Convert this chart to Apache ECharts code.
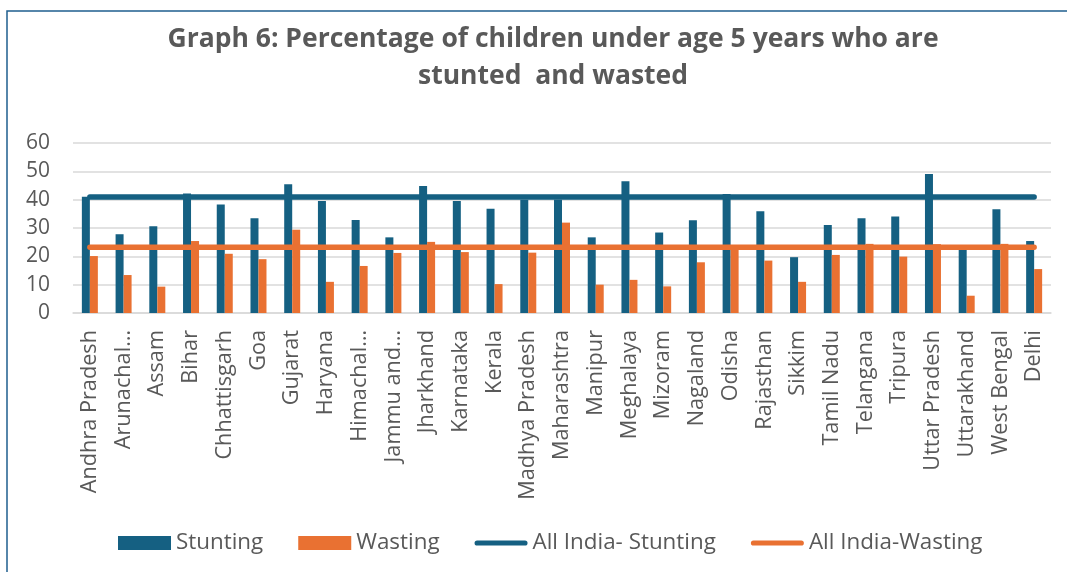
<!DOCTYPE html>
<html>
<head>
<meta charset="utf-8">
<script src="https://cdn.jsdelivr.net/npm/echarts@6/dist/echarts.min.js"></script>
<style>
html,body{margin:0;padding:0;background:#fff;}
#chart{width:1067px;height:572px;}
</style>
</head>
<body>
<div id="chart"></div>
<script>
const titleText = "Graph 6: Percentage of children under age 5 years who are\nstunted  and wasted";
const categories = ["Andhra Pradesh","Arunachal…","Assam","Bihar","Chhattisgarh","Goa","Gujarat","Haryana","Himachal…","Jammu and…","Jharkhand","Karnataka","Kerala","Madhya Pradesh","Maharashtra","Manipur","Meghalaya","Mizoram","Nagaland","Odisha","Rajasthan","Sikkim","Tamil Nadu","Telangana","Tripura","Uttar Pradesh","Uttarakhand","West Bengal","Delhi"];
const stunting = [41.0,27.8,30.6,42.2,38.3,33.4,45.4,39.5,32.8,26.7,44.8,39.5,36.8,40.0,40.0,26.7,46.5,28.4,32.7,42.0,35.9,19.7,31.1,33.4,34.1,49.1,22.3,36.6,25.4];
const wasting = [20.1,13.4,9.3,25.4,20.9,19.0,29.4,11.0,16.6,21.2,25.1,21.5,10.2,21.3,31.9,10.0,11.7,9.4,17.9,23.0,18.5,11.0,20.5,24.4,19.9,24.3,6.1,24.4,15.5];
const allIndiaStunting = 40.9;
const allIndiaWasting = 23.2;
const yTicks = {min:0, max:60, interval:10};

const blue = '#156082', orange = '#E97132', txt = '#595959';
const font = "'Open Sans', 'Liberation Sans', sans-serif";
const lineIcon = 'path://M2.75,0 L53.25,0 A2.75,2.75 0 0 1 53.25,5.5 L2.75,5.5 A2.75,2.75 0 0 1 2.75,0 Z';

const chart = echarts.init(document.getElementById('chart'), null, {renderer:'canvas'});
chart.setOption({
  animation:false,
  backgroundColor:'#fff',
  graphic:[{type:'rect', shape:{x:7, y:11, width:1200, height:700}, style:{fill:'none', stroke:'#1f5f8f', lineWidth:1.5}, z:-10, silent:true}],
  title:{
    text:titleText, left:548, top:16, textAlign:'center',
    textStyle:{fontFamily:"'Open Sans', 'Liberation Sans', sans-serif", fontWeight:'bold', fontSize:26.5, color:txt, lineHeight:37}
  },
  legend:{
    data:[
      {name:'Stunting', icon:'rect'},
      {name:'Wasting', icon:'rect'},
      {name:'All India- Stunting', icon:lineIcon},
      {name:'All India-Wasting', icon:lineIcon}
    ],
    left:113, top:527, itemWidth:53, itemHeight:14, itemGap:35,
    textStyle:{fontFamily:font, fontSize:22.4, color:txt}
  },
  grid:{left:73, right:16, top:143, bottom:259, containLabel:false},
  xAxis:{
    type:'category', data:categories, boundaryGap:true,
    axisLine:{lineStyle:{color:'#d9d9d9', width:1.5}},
    axisTick:{show:false},
    axisLabel:{rotate:90, interval:0, margin:17, fontFamily:font, fontSize:21.7, color:txt}
  },
  yAxis:{
    type:'value', min:yTicks.min, max:yTicks.max, interval:yTicks.interval,
    axisLine:{show:false}, axisTick:{show:false},
    splitLine:{lineStyle:{color:'#d9d9d9', width:1.5}},
    axisLabel:{margin:23, fontFamily:font, fontSize:21, color:txt}
  },
  series:[
    {name:'Stunting', type:'bar', data:stunting, barWidth:8, barGap:'0%', itemStyle:{color:blue}, z:2},
    {name:'Wasting', type:'bar', data:wasting, barWidth:8, barGap:'0%', itemStyle:{color:orange}, z:2},
    {name:'All India- Stunting', type:'line', data:categories.map(()=>allIndiaStunting), symbol:'none', lineStyle:{color:blue, width:5.5, cap:'round'}, itemStyle:{color:blue}, z:5},
    {name:'All India-Wasting', type:'line', data:categories.map(()=>allIndiaWasting), symbol:'none', lineStyle:{color:orange, width:5.5, cap:'round'}, itemStyle:{color:orange}, z:6}
  ]
});
</script>
</body>
</html>
